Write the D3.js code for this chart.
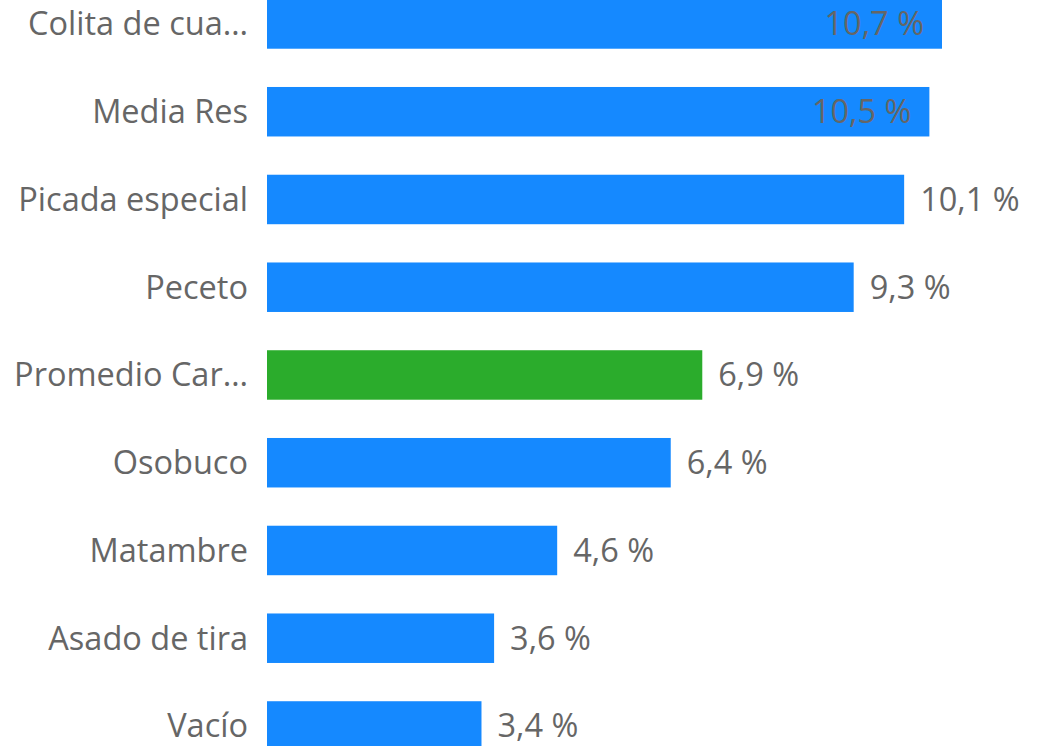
<!DOCTYPE html>
<html>
<head>
<meta charset="utf-8">
<script src="https://cdn.jsdelivr.net/npm/d3@7"></script>
<style>
  html, body { margin: 0; padding: 0; background: #fff; overflow: hidden; }
  text { font-family: "Segoe UI", "Open Sans", sans-serif; }
</style>
</head>
<body>
<script>
// categories as displayed (long names are truncated in the original)
const categories = ["Colita de cua…", "Media Res", "Picada especial", "Peceto",
                    "Promedio Car…", "Osobuco", "Matambre", "Asado de tira", "Vacío"];
const values = [10.7, 10.5, 10.1, 9.3, 6.9, 6.4, 4.6, 3.6, 3.4];
const highlight = ["Promedio Car…"];

const width = 1053, height = 746;
const blue = "#1589ff", green = "#2bac2c", textColor = "#666666";
const fontSize = 32.5;

const svg = d3.select("body").append("svg")
              .attr("width", width)
              .attr("height", height);

const x = d3.scaleLinear()
            .domain([0, 10.7])
            .range([267, 942]);

const step = 87.75;
const y = d3.scaleBand()
            .domain(categories)
            .range([-19.9, -19.9 + step * categories.length])
            .paddingInner(0.436)
            .paddingOuter(0.218);

const data = categories.map((c, i) => ({ name: c, value: values[i] }));
const fmt = v => d3.format(".1f")(v).replace(".", ",") + " %";

// bars
svg.append("g")
   .selectAll("rect")
   .data(data)
   .enter().append("rect")
   .attr("x", x(0))
   .attr("y", d => y(d.name))
   .attr("width", d => x(d.value) - x(0))
   .attr("height", y.bandwidth())
   .attr("fill", d => highlight.includes(d.name) ? green : blue);

// category labels
const axis = d3.axisLeft(y).tickSize(0).tickPadding(19);
const gAxis = svg.append("g")
                 .attr("transform", `translate(${x(0)},0)`)
                 .call(axis);
gAxis.select(".domain").remove();
gAxis.selectAll("text")
     .attr("fill", textColor)
     .style("font-size", fontSize + "px")
     .attr("dy", "0.35em");

// value labels: outside the bar unless they'd run off the right edge
svg.append("g")
   .selectAll("text")
   .data(data)
   .enter().append("text")
   .attr("y", d => y(d.name) + y.bandwidth() / 2)
   .attr("dy", "0.35em")
   .attr("fill", textColor)
   .style("font-size", fontSize + "px")
   .text(d => fmt(d.value))
   .each(function(d) {
     const w = this.getComputedTextLength();
     const end = x(d.value);
     if (end + 16 + w > width - 20) {
       d3.select(this).attr("x", end - 18).attr("text-anchor", "end");
     } else {
       d3.select(this).attr("x", end + 16).attr("text-anchor", "start");
     }
   });
</script>
</body>
</html>
